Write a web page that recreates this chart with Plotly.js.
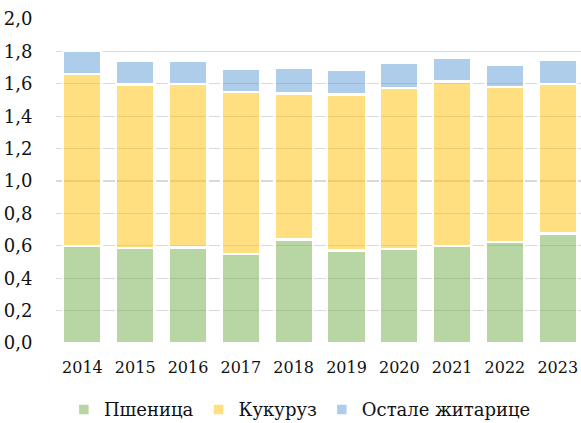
<!DOCTYPE html>
<html>
<head>
<meta charset="utf-8">
<script src="https://cdn.plot.ly/plotly-3.0.1.min.js"></script>
<style>html,body{margin:0;padding:0;background:#fff;}#chart{width:581px;height:423px;}</style>
</head>
<body>
<div id="chart"></div>
<script>
const years = ['2014','2015','2016','2017','2018','2019','2020','2021','2022','2023'];
const wheat = [0.60, 0.585, 0.59, 0.55, 0.64, 0.57, 0.58, 0.60, 0.625, 0.675];
const corn  = [1.06, 1.01, 1.01, 1.00, 0.90, 0.965, 0.995, 1.015, 0.955, 0.925];
const other = [0.145, 0.15, 0.145, 0.145, 0.16, 0.15, 0.155, 0.145, 0.135, 0.15];
const seriesNames = ['Пшеница', 'Кукуруз', 'Остале житарице'];
const yTicks = [0, 0.2, 0.4, 0.6, 0.8, 1.0, 1.2, 1.4, 1.6, 1.8, 2.0];
const yTickText = ['0,0','0,2','0,4','0,6','0,8','1,0','1,2','1,4','1,6','1,8','2,0'];

const colors = ['rgba(112,173,71,0.5)', 'rgba(255,192,0,0.5)', 'rgba(91,155,213,0.5)'];
const font = "'DejaVu Serif', serif";
const textColor = '#111111';
const data = [wheat, corn, other].map((vals, i) => ({
  type: 'bar',
  x: years,
  y: vals,
  name: seriesNames[i],
  marker: {color: colors[i], line: {color: '#ffffff', width: 2.5}},
  hoverinfo: 'skip'
}));

const layout = {
  width: 581, height: 423,
  barmode: 'stack',
  bargap: 0.27,
  margin: {l: 56, r: 0, t: 19, b: 80, autoexpand: false},
  paper_bgcolor: '#ffffff',
  plot_bgcolor: '#ffffff',
  font: {family: font, color: textColor, size: 16},
  xaxis: {
    type: 'category',
    range: [-0.5, 9.44],
    showgrid: false,
    zeroline: false,
    showline: false,
    automargin: false,
    ticks: 'outside', ticklen: 10, tickcolor: 'rgba(0,0,0,0)',
    tickfont: {family: font, size: 16, color: textColor}
  },
  yaxis: {
    range: [0, 2.0],
    tickvals: yTicks,
    ticktext: yTickText,
    showgrid: true,
    gridcolor: '#d9d9d9',
    gridwidth: 1.3,
    zeroline: false,
    showline: false,
    automargin: false,
    ticks: 'outside', ticklen: 19, tickcolor: 'rgba(0,0,0,0)',
    tickfont: {family: font, size: 18, color: textColor}
  },
  showlegend: true,
  legend: {
    orientation: 'h',
    x: 0.015, xanchor: 'left',
    y: -0.206, yanchor: 'middle',
    font: {family: font, size: 18, color: textColor},
    traceorder: 'normal',
    itemclick: false
  }
};

Plotly.newPlot('chart', data, layout, {displayModeBar: false, staticPlot: true});
</script>
</body>
</html>
